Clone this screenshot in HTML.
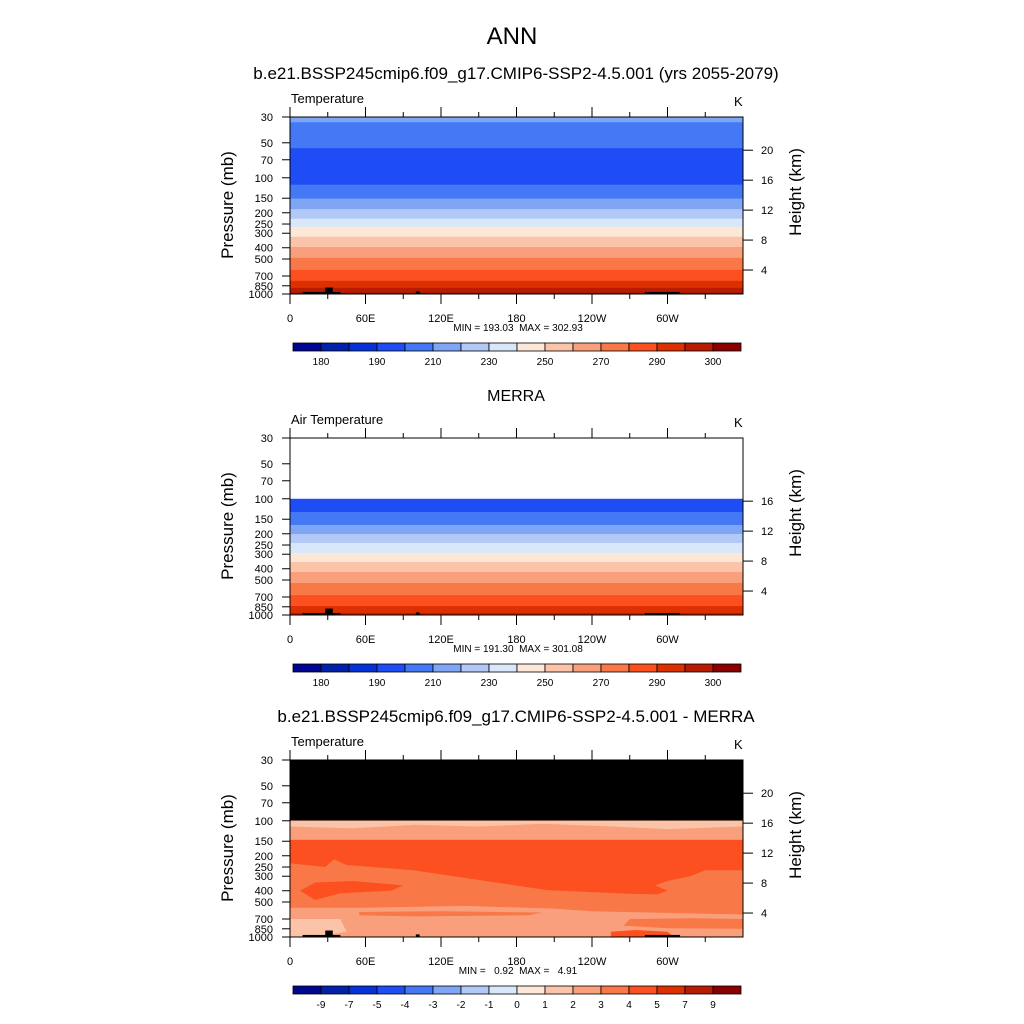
<!DOCTYPE html>
<html><head><meta charset="utf-8"><style>
html,body{margin:0;padding:0;background:#fff;}
svg{display:block;font-family:"Liberation Sans",sans-serif;}
.pre{white-space:pre;}
</style></head><body>
<svg id="chart" width="1024" height="1024" viewBox="0 0 1024 1024">
<rect x="0" y="0" width="1024" height="1024" fill="#fff"/>
<text x="512" y="44" font-size="24" text-anchor="middle">ANN</text>
<text x="516" y="79" font-size="17" text-anchor="middle">b.e21.BSSP245cmip6.f09_g17.CMIP6-SSP2-4.5.001 (yrs 2055-2079)</text>
<text x="516" y="401" font-size="16" text-anchor="middle">MERRA</text>
<text x="516" y="722" font-size="17" text-anchor="middle">b.e21.BSSP245cmip6.f09_g17.CMIP6-SSP2-4.5.001 - MERRA</text>
<g id="panels"></g>
</svg>
<script>
// ---- data ----
const colors = ['#00068f','#0021a8','#0432d8','#1e4cf5','#4478f5','#7fa5f5','#b2c8f7','#d8e8fa','#fde8d8','#fbc4a8','#fa9f7c','#f87848','#fc5020','#dd3000','#b81c00','#8a0000'];
const absLabels = ['180','','190','','210','','230','','250','','270','','290','','300'];
const diffLabels = ['-9','-7','-5','-4','-3','-2','-1','0','1','2','3','4','5','7','9'];
const pTicks = [30,50,70,100,150,200,250,300,400,500,700,850,1000];
const lonTicks = [0,60,120,180,240,300];
const lonLabels = ['0','60E','120E','180','120W','60W'];
const heightTicks1 = [4,8,12,16,20];
const heightTicks2 = [4,8,12,16];
// model bands: pressure boundaries (mb, top->bottom) and colour index
const modelBounds = [30,33.3,55.6,114.6,151,186,225,264,322,394,488,620,770,885,978,1000];
const modelColors = [5,4,3,4,5,6,7,8,9,10,11,12,13,14,15];
const obsBounds = [100,130,168,201,240,293,350,427,531,674,838,962,1000];
const obsColors = [3,4,5,6,7,8,9,10,11,12,13,14];
// difference field shapes [lon, p]
const diffBase = 11;
const diffShapes = [
 {c:10, pts:[[0,100],[360,100],[360,146],[0,146]]},
 {c:9, pts:[[0,100],[60,100],[120,100],[180,100],[240,100],[300,100],[360,100],[360,112],[300,118],[240,110],[200,106],[150,112],[100,108],[50,116],[0,112]]},
 {c:12, pts:[[0,146],[360,146],[360,266],[330,266],[318,300],[300,330],[290,360],[300,400],[292,430],[270,425],[204,395],[151,324],[98,266],[45,240],[35,215],[28,250],[0,232]]},
 {c:12, pts:[[8,400],[20,340],[50,330],[90,360],[80,400],[40,420],[20,480]]},
 {c:10, pts:[[0,560],[60,560],[140,540],[210,570],[240,600],[300,620],[360,640],[360,1000],[0,1000]]},
 {c:11, pts:[[55,610],[120,600],[200,615],[190,650],[100,665],[55,650]]},
 {c:11, pts:[[270,700],[320,690],[360,700],[360,850],[300,840],[265,800]]},
 {c:9, pts:[[0,700],[40,700],[45,900],[20,1000],[0,1000]]},
 {c:12, pts:[[255,900],[275,870],[300,900],[305,1000],[255,1000]]}
];
const terrain = [[10,40,960],[28,34,880],[100,103,950],[282,310,960]];

// ---- helpers ----
const NS='http://www.w3.org/2000/svg';
const root=document.getElementById('panels');
function mk(tag,attrs,parent){const e=document.createElementNS(NS,tag);for(const k in attrs)e.setAttribute(k,attrs[k]);(parent||root).appendChild(e);return e;}
const X0=290,X1=743,PH=177;
function xOf(lon){return X0+lon/360*(X1-X0);}
function yOf(p,top){return top+PH*Math.log10(p/30)/Math.log10(1000/30);}
function pOfZ(z){return 1126*Math.exp(-z/6.74);}

function panel(idx,top,label,hticks,fillFn,cbLabels,minmax){
  const g=mk('g',{});
  
  
  const cp=mk('clipPath',{id:'clip'+idx},g);
  mk('rect',{x:X0,y:top,width:X1-X0,height:PH},cp);
  const plot=mk('g',{'clip-path':'url(#clip'+idx+')'},g);
  
  
  fillFn(plot,top);
  terrain.forEach(t=>{const r=mk('rect',{x:xOf(t[0]),y:yOf(t[2],top),width:xOf(t[1])-xOf(t[0]),height:top+PH-yOf(t[2],top)+1,fill:'#000'},plot);
    
    });
  mk('rect',{x:X0,y:top,width:X1-X0,height:PH,fill:'none',stroke:'#000','stroke-width':1},g);
  pTicks.forEach(p=>{const y=yOf(p,top);mk('line',{x1:X0-8,x2:X0,y1:y,y2:y,stroke:'#000'},g);
    const t=mk('text',{x:X0-17,y:y+4,'font-size':11,'text-anchor':'end'},g);t.textContent=p;
    
    });
  const yl=mk('text',{x:0,y:0,'font-size':17,'text-anchor':'middle',transform:`translate(233,${top+88}) rotate(-90)`},g);
  yl.textContent='Pressure (mb)';
  
  
  hticks.forEach(z=>{const y=yOf(pOfZ(z),top);mk('line',{x1:X1,x2:X1+10,y1:y,y2:y,stroke:'#000'},g);
    const t=mk('text',{x:X1+18,y:y+4,'font-size':11},g);t.textContent=z;
    
    });
  const hl=mk('text',{x:0,y:0,'font-size':17,'text-anchor':'middle',transform:`translate(801,${top+75}) rotate(-90)`},g);
  hl.textContent='Height (km)';
  
  
  for(let lon=0;lon<360;lon+=30){const x=xOf(lon);const L=lon%60===0?10:5;
    mk('line',{x1:x,x2:x,y1:top,y2:top-L,stroke:'#000'},g);
    mk('line',{x1:x,x2:x,y1:top+PH,y2:top+PH+L,stroke:'#000'},g);}
  lonTicks.forEach((lon,i)=>{const t=mk('text',{x:xOf(lon),y:top+PH+28,'font-size':11,'text-anchor':'middle'},g);t.textContent=lonLabels[i];
    
    });
  const tl=mk('text',{x:291,y:top-14,'font-size':13},g);tl.textContent=label;
  
  
  const k=mk('text',{x:734,y:top-11,'font-size':13},g);k.textContent='K';
  
  
  const mm=mk('text',{x:518,y:top+PH+37,'font-size':10,'text-anchor':'middle','class':'pre'},g);mm.textContent=minmax;
  
  
  const cy=top+226,bw=28;
  const cb=mk('g',{},g);
  
  
  colors.forEach((c,i)=>{const r=mk('rect',{x:293+i*bw,y:cy,width:bw,height:8,fill:c,stroke:'#000','stroke-width':0.8},cb);
    
    });
  cbLabels.forEach((l,i)=>{if(!l)return;const t=mk('text',{x:293+(i+1)*bw,y:cy+22,'font-size':10,'text-anchor':'middle'},cb);t.textContent=l;
    
    });
}
function bands(bounds,cols){return function(plot,top){
  cols.forEach((c,i)=>{const y0=yOf(bounds[i],top),y1=yOf(bounds[i+1],top);
    const r=mk('rect',{x:X0,y:y0,width:X1-X0,height:y1-y0+0.5,fill:colors[c]},plot);
    
    });};}
function diffFill(plot,top){
  mk('rect',{x:X0,y:top,width:X1-X0,height:yOf(100,top)-top,fill:'#000'},plot);
  mk('rect',{x:X0,y:yOf(100,top),width:X1-X0,height:top+PH-yOf(100,top),fill:colors[diffBase]},plot);
  diffShapes.forEach(s=>{const d=s.pts.map((p,i)=>(i?'L':'M')+xOf(p[0]).toFixed(1)+','+yOf(p[1],top).toFixed(1)).join('')+'Z';
    const e=mk('path',{d:d,fill:colors[s.c]},plot);
    
    });
}
panel(1,117,'Temperature',heightTicks1,bands(modelBounds,modelColors),absLabels,'MIN = 193.03  MAX = 302.93');
panel(2,438,'Air Temperature',heightTicks2,bands(obsBounds,obsColors),absLabels,'MIN = 191.30  MAX = 301.08');
panel(3,760,'Temperature',heightTicks1,diffFill,diffLabels,'MIN =   0.92  MAX =   4.91');
</script>
</body></html>
